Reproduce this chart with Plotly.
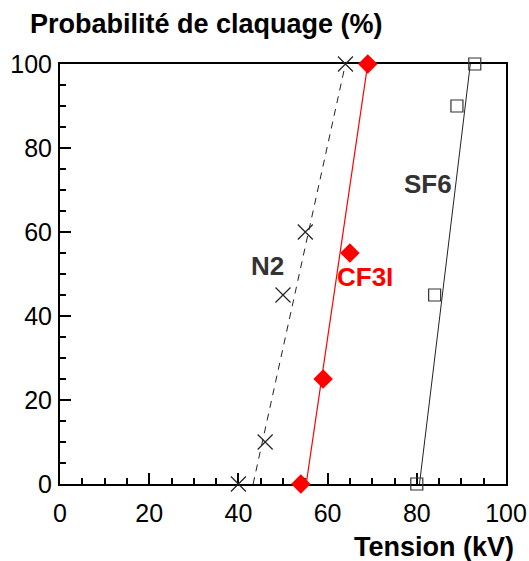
import plotly.graph_objects as go

# Data
n2_x = [40, 46, 50, 55, 64]
n2_y = [0, 10, 45, 60, 100]
cf3i_x = [54, 59, 65, 69]
cf3i_y = [0, 25, 55, 100]
sf6_x = [80, 84, 89, 93]
sf6_y = [0, 45, 90, 100]

# fitted lines (voltage at 0 % and 100 %)
fit_p = [0, 100]
n2_fit_x = [43.3, 64]
cf3i_fit_x = [55.2, 69]
sf6_fit_x = [80.6, 92]

x_ticks = [0, 20, 40, 60, 80, 100]
y_ticks = [0, 20, 40, 60, 80, 100]

FONT = "Arial, Liberation Sans, sans-serif"

fig = go.Figure()
fig.add_trace(go.Scatter(x=n2_fit_x, y=fit_p, mode="lines",
                         line=dict(color="#222", width=1, dash="7px,6px"),
                         showlegend=False, cliponaxis=False))
fig.add_trace(go.Scatter(x=cf3i_fit_x, y=fit_p, mode="lines",
                         line=dict(color="#ff0000", width=1.2),
                         showlegend=False, cliponaxis=False))
fig.add_trace(go.Scatter(x=sf6_fit_x, y=fit_p, mode="lines",
                         line=dict(color="#222", width=1),
                         showlegend=False, cliponaxis=False))
fig.add_trace(go.Scatter(x=n2_x, y=n2_y, mode="markers",
                         marker=dict(symbol="x-thin", size=15,
                                     line=dict(color="#222", width=1.2)),
                         showlegend=False, cliponaxis=False))
fig.add_trace(go.Scatter(x=cf3i_x, y=cf3i_y, mode="markers",
                         marker=dict(symbol="diamond", size=15, color="#ff0000",
                                     line=dict(width=0)),
                         showlegend=False, cliponaxis=False))
fig.add_trace(go.Scatter(x=sf6_x, y=sf6_y, mode="markers",
                         marker=dict(symbol="square-open", size=12,
                                     color="#333", line=dict(width=1.2)),
                         showlegend=False, cliponaxis=False))

axis_common = dict(
    showgrid=False, zeroline=False, showline=True, linecolor="black",
    linewidth=2, mirror=True, ticks="inside", ticklen=11, tickwidth=2,
    tickcolor="black", layer="below traces", automargin=False,
    tickfont=dict(family=FONT, size=25, color="black"),
    minor=dict(dtick=5, ticks="inside", ticklen=6, tickwidth=2, tickcolor="black"),
)

fig.update_xaxes(range=[0, 100], tickvals=x_ticks, ticklabelstandoff=6, **axis_common)
fig.update_yaxes(range=[0, 100], tickvals=y_ticks, ticklabelstandoff=1, **axis_common)

annotations = [
    dict(text="<b>Probabilité de claquage (%)</b>", xref="paper", yref="paper",
         x=-0.0717, y=1.054, xanchor="left", yanchor="bottom", showarrow=False,
         font=dict(family=FONT, size=27, color="black")),
    dict(text="<b>Tension (kV)</b>", xref="paper", yref="paper",
         x=1.02, y=-0.111, xanchor="right", yanchor="top", showarrow=False,
         borderpad=0,
         font=dict(family=FONT, size=27, color="black")),
    dict(text="<b>N2</b>", x=46.6, y=51.9, xref="x", yref="y", showarrow=False,
         font=dict(family=FONT, size=26, color="#333")),
    dict(text="<b>CF3I</b>", x=68.4, y=49.4, xref="x", yref="y", showarrow=False,
         font=dict(family=FONT, size=26, color="#ff0000")),
    dict(text="<b>SF6</b>", x=82.4, y=71.4, xref="x", yref="y", showarrow=False,
         font=dict(family=FONT, size=26, color="#333")),
]

fig.update_layout(
    width=529, height=561,
    margin=dict(l=60, r=23, t=64, b=77, pad=0),
    paper_bgcolor="white", plot_bgcolor="white",
    annotations=annotations,
    showlegend=False,
)

# remove the browser's default 8px body margin so the figure fills the window
fig.write_html("out.html",
               config={"displayModeBar": False, "staticPlot": True},
               post_script="document.body.style.margin='0';document.body.style.overflow='hidden';")
